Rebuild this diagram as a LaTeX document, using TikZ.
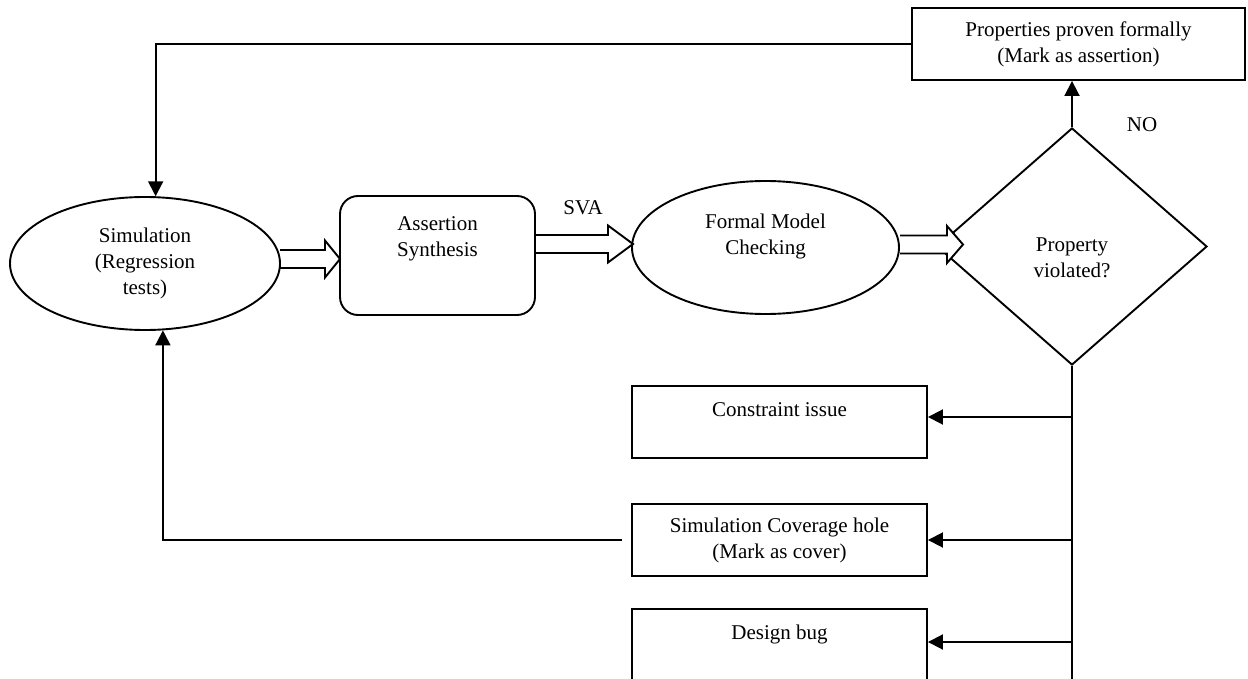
\documentclass[tikz,border=0pt]{standalone}
\usepackage{fontspec}
\setmainfont{Liberation Serif}
\usetikzlibrary{shapes.geometric,arrows.meta,calc}
\newcommand\bigarrow[5]{% #1 start x, #2 head start x, #3 tip x, #4 centre y, #5 fill
  \filldraw[barrow,fill=#5] (#1,{#4-9}) -- (#2,{#4-9}) -- (#2,{#4-18.5}) -- (#3,#4) -- (#2,{#4+18.5}) -- (#2,{#4+9}) -- (#1,{#4+9});}
\begin{document}
\begin{tikzpicture}[x=1pt,y=-1pt,
  every node/.style={font=\fontsize{21}{26}\selectfont, align=center, inner sep=0pt},
  box/.style={draw, line width=1.9pt, rectangle},
  ell/.style={draw, line width=1.9pt, ellipse},
  conn/.style={line width=1.9pt},
  arr/.style={line width=1.9pt, -{Triangle[length=15pt,width=15pt]}},
  barrow/.style={draw, line width=1.9pt, line join=miter}]
\clip (0,0) rectangle (1248,679);
\fill[white] (0,0) rectangle (1248,679);

% nodes
\node[ell, minimum width=270pt, minimum height=133pt] (sim) at (145,263.5) {Simulation\\(Regression\\tests)};
\node[draw, line width=1.9pt, rounded corners=18pt, minimum width=195pt, minimum height=119pt,
      label={[yshift=17pt]center:Assertion\\Synthesis}] (asrt) at (437.5,255.5) {};
\node[ell, minimum width=267pt, minimum height=133pt,
      label={[yshift=11pt]center:Formal Model\\Checking}] (formal) at (765.5,247.5) {};
\node[draw, diamond, line width=1.9pt, minimum width=270pt, minimum height=237pt,
      label={[yshift=-11pt]center:Property\\violated?}] (dia) at (1072,246.5) {};
\node[box, minimum width=333pt, minimum height=72pt] (top) at (1078.5,44) {Properties proven formally\\(Mark as assertion)};
\node[box, minimum width=295pt, minimum height=72pt,
      label={[yshift=12pt]center:Constraint issue}] (cons) at (779.5,422) {};
\node[box, minimum width=295pt, minimum height=72pt] (simcov) at (779.5,540) {Simulation Coverage hole\\(Mark as cover)};
\node[box, minimum width=295pt, minimum height=72pt,
      label={[yshift=11pt]center:Design bug}] (design) at (779.5,645) {};
\node (no) at (1142,125) {NO};
\node (sva) at (583,208) {SVA};
\coordinate (bot) at (1072,690);

% block arrows
\bigarrow{280}{325}{340}{259}{none}
\bigarrow{535}{608}{633}{244}{none}
\bigarrow{900}{947}{963}{244.5}{white}

% connectors
\draw[arr] (top.west) -| (sim.81.4);
\draw[arr] (dia.north) -- (dia.north |- top.south);
\draw[conn] (dia.south) -- (bot);
\draw[arr] ($(cons.east -| dia.south)+(0,-5)$) -- ($(cons.east)+(0,-5)$);
\draw[arr] (simcov.east -| dia.south) -- (simcov.east);
\draw[arr] ($(design.east -| dia.south)+(0,-3)$) -- ($(design.east)+(0,-3)$);
\draw[arr, shorten <=9pt] (simcov.west) -| (sim.-75.5);
\end{tikzpicture}
\end{document}
